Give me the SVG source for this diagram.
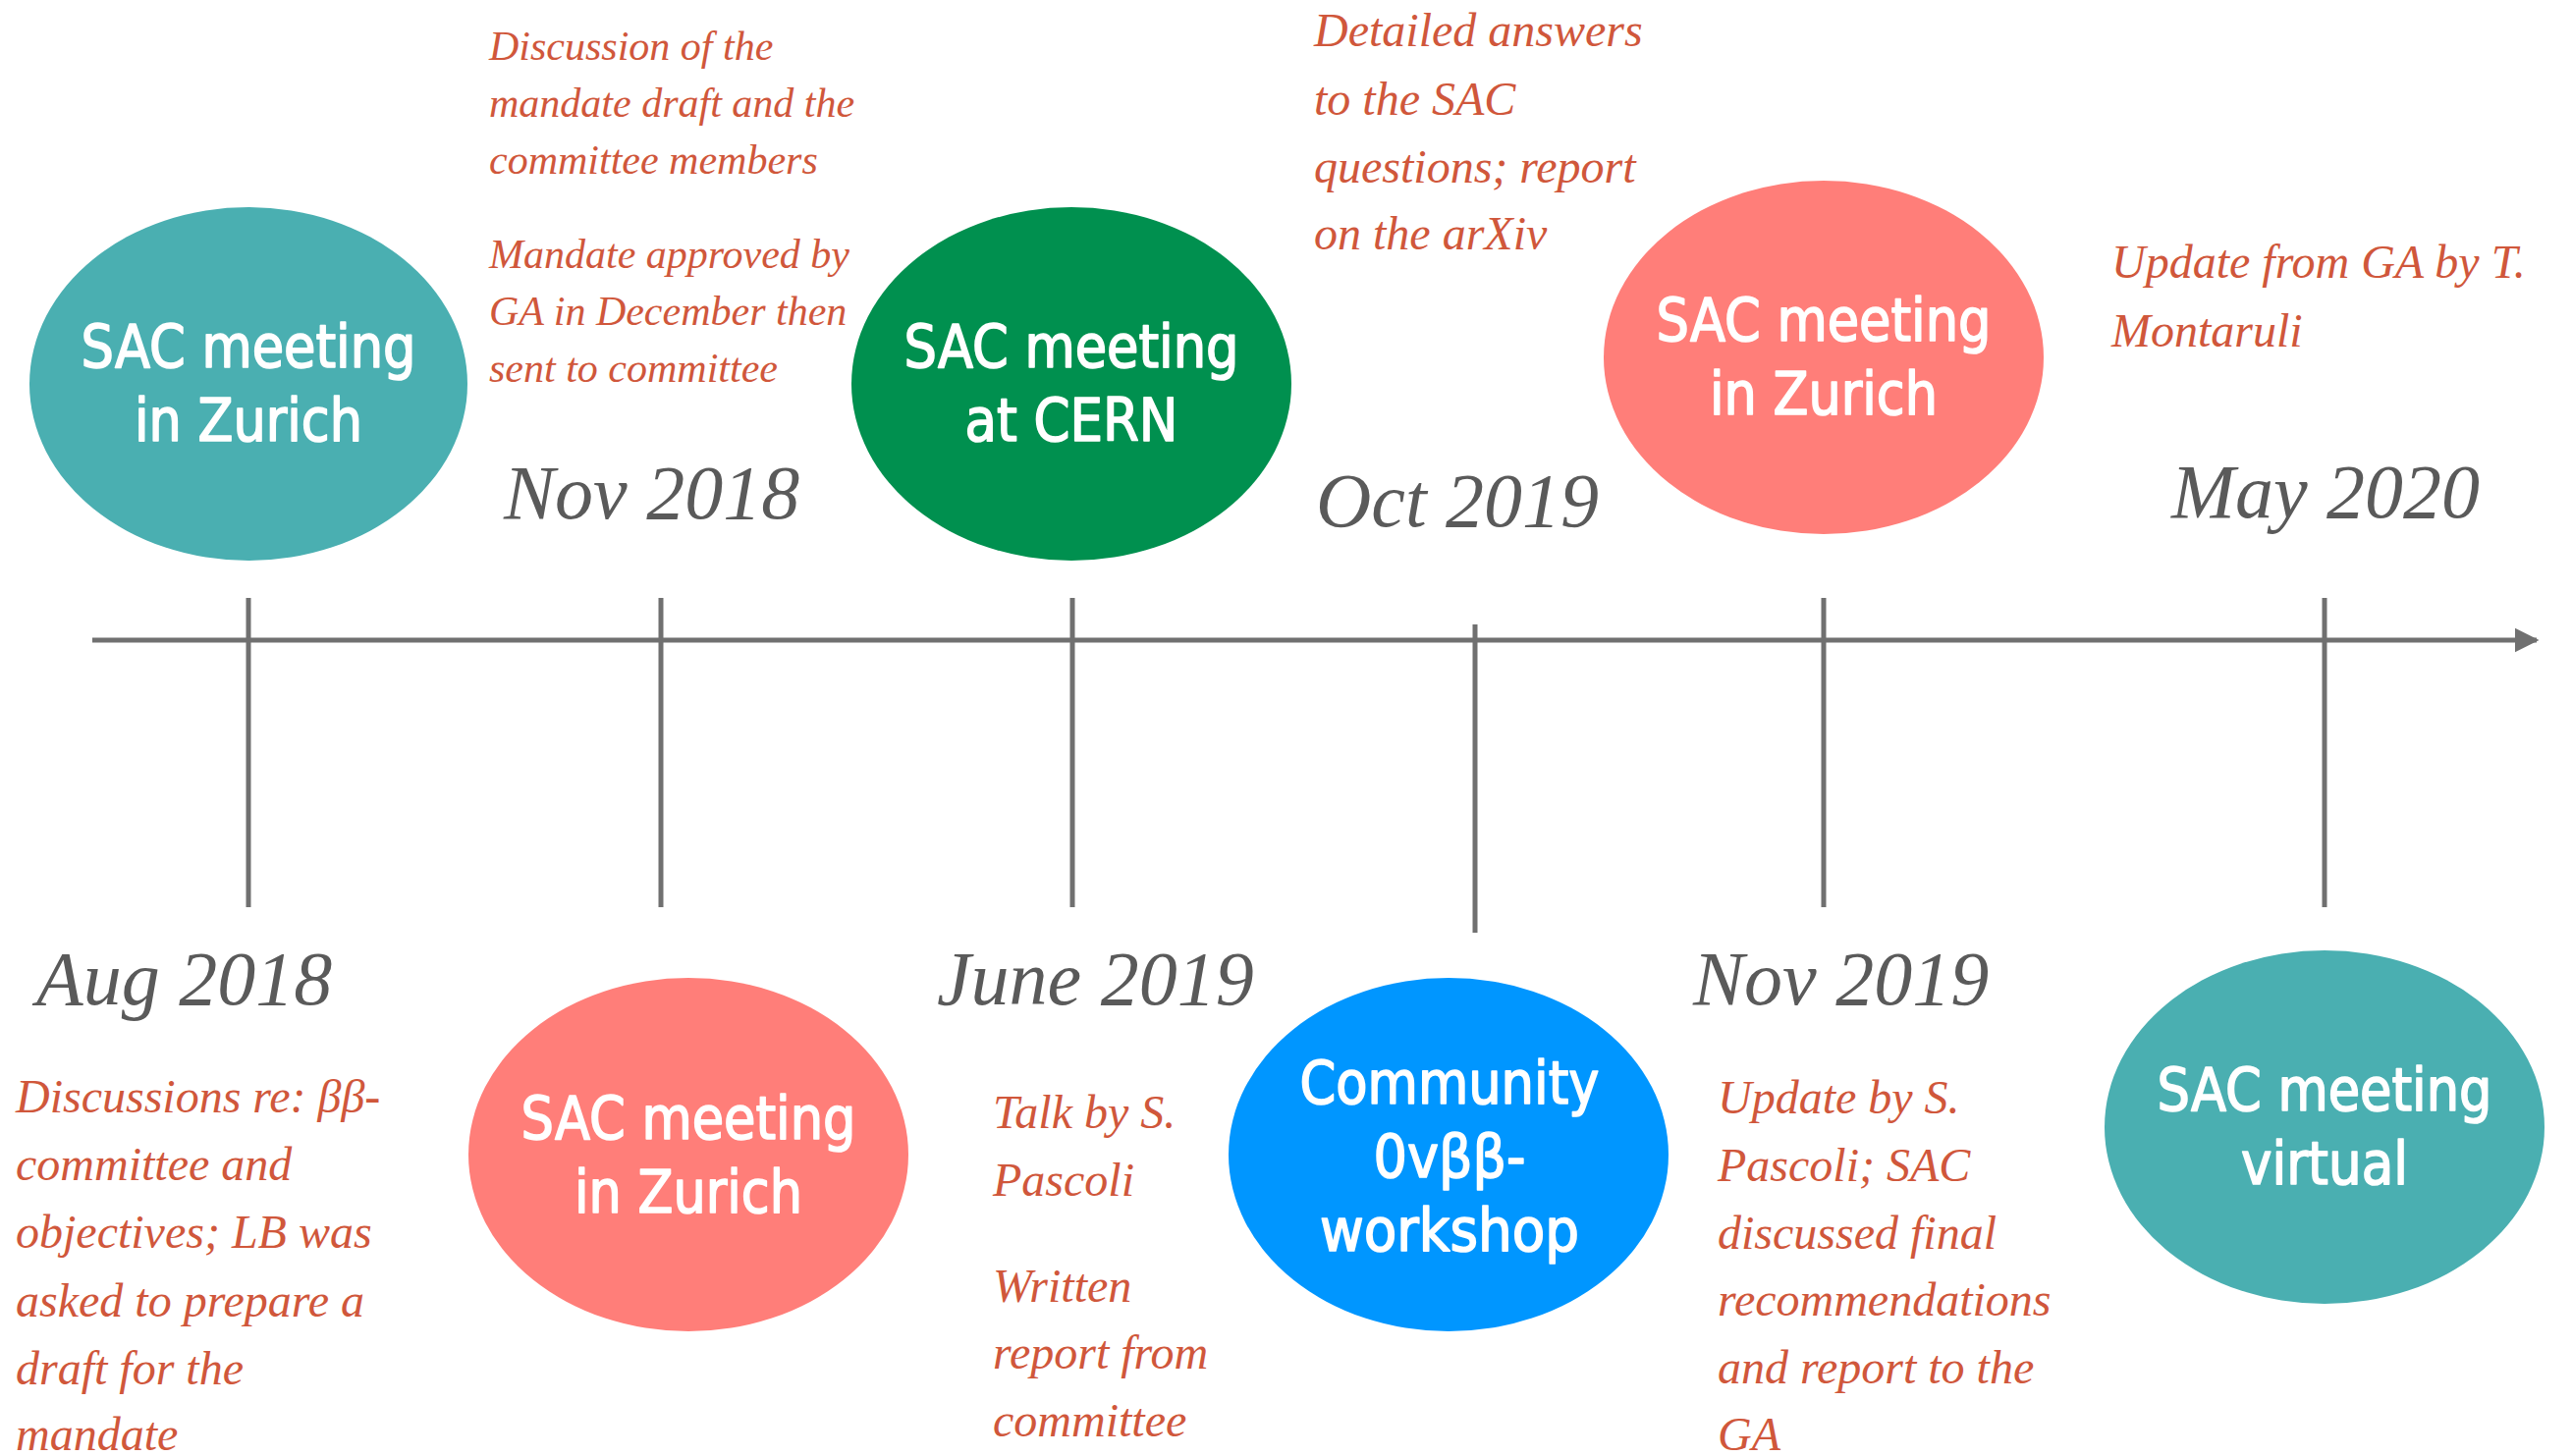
<svg xmlns="http://www.w3.org/2000/svg" width="2619" height="1483" viewBox="0 0 2619 1483">
  <style>
    .node-label { font-family: "DejaVu Sans Condensed", "DejaVu Sans", sans-serif; font-size: 61px; fill: #ffffff; stroke: #ffffff; stroke-width: 1.6px; stroke-linejoin: round; text-anchor: middle; }
    .note { font-family: "Liberation Serif", serif; font-style: italic; fill: #D0573B; }
    .note-s { font-size: 42px; }
    .note-l { font-size: 48px; }
    .date { font-family: "Liberation Serif", serif; font-style: italic; font-size: 78px; fill: #5A5A5A; }
    .axis { stroke: #707070; stroke-width: 5; fill: none; }
  </style>
  <defs>
    <marker id="arrow" viewBox="0 0 10 10" refX="9" refY="5" markerWidth="5" markerHeight="5" markerUnits="strokeWidth" orient="auto">
      <path d="M0,0 L10,5 L0,10 Z" fill="#707070"/>
    </marker>
  </defs>
  <rect width="2619" height="1483" fill="#ffffff"/>

  <!-- timeline axis and ticks -->
  <g id="connectors">
    <line class="axis" x1="94" y1="652" x2="2583" y2="652" marker-end="url(#arrow)"/>
    <line class="axis" x1="253" y1="609" x2="253" y2="924"/>
    <line class="axis" x1="673" y1="609" x2="673" y2="924"/>
    <line class="axis" x1="1092" y1="609" x2="1092" y2="924"/>
    <line class="axis" x1="1502" y1="636" x2="1502" y2="950"/>
    <line class="axis" x1="1857" y1="609" x2="1857" y2="924"/>
    <line class="axis" x1="2367" y1="609" x2="2367" y2="924"/>
  </g>

  <!-- meetings -->
  <g id="node-aug2018">
    <ellipse cx="253" cy="391" rx="223" ry="180" fill="#4AAFB1"/>
    <text class="node-label" x="253" y="374" textLength="341" lengthAdjust="spacingAndGlyphs">SAC meeting</text>
    <text class="node-label" x="253" y="449" textLength="232" lengthAdjust="spacingAndGlyphs">in Zurich</text>
  </g>
  <g id="node-nov2018">
    <ellipse cx="701" cy="1176" rx="224" ry="180" fill="#FF7E79"/>
    <text class="node-label" x="701" y="1160" textLength="341" lengthAdjust="spacingAndGlyphs">SAC meeting</text>
    <text class="node-label" x="701" y="1235" textLength="232" lengthAdjust="spacingAndGlyphs">in Zurich</text>
  </g>
  <g id="node-jun2019">
    <ellipse cx="1091" cy="391" rx="224" ry="180" fill="#00904F"/>
    <text class="node-label" x="1091" y="374" textLength="341" lengthAdjust="spacingAndGlyphs">SAC meeting</text>
    <text class="node-label" x="1091" y="449" textLength="217" lengthAdjust="spacingAndGlyphs">at CERN</text>
  </g>
  <g id="node-oct2019">
    <ellipse cx="1475" cy="1176" rx="224" ry="180" fill="#0096FF"/>
    <text class="node-label" x="1476" y="1124" textLength="305" lengthAdjust="spacingAndGlyphs">Community</text>
    <text class="node-label" x="1476" y="1199" textLength="155" lengthAdjust="spacingAndGlyphs">0vββ-</text>
    <text class="node-label" x="1476" y="1274" textLength="264" lengthAdjust="spacingAndGlyphs">workshop</text>
  </g>
  <g id="node-nov2019">
    <ellipse cx="1857" cy="364" rx="224" ry="180" fill="#FF7E79"/>
    <text class="node-label" x="1857" y="347" textLength="341" lengthAdjust="spacingAndGlyphs">SAC meeting</text>
    <text class="node-label" x="1857" y="422" textLength="232" lengthAdjust="spacingAndGlyphs">in Zurich</text>
  </g>
  <g id="node-may2020">
    <ellipse cx="2367" cy="1148" rx="224" ry="180" fill="#4AAFB1"/>
    <text class="node-label" x="2367" y="1131" textLength="341" lengthAdjust="spacingAndGlyphs">SAC meeting</text>
    <text class="node-label" x="2367" y="1206" textLength="170" lengthAdjust="spacingAndGlyphs">virtual</text>
  </g>

  <!-- dates -->
  <g id="dates">
    <text class="date" x="37" y="1023">Aug 2018</text>
    <text class="date" x="513" y="528">Nov 2018</text>
    <text class="date" x="954" y="1023">June 2019</text>
    <text class="date" x="1340" y="536">Oct 2019</text>
    <text class="date" x="1724" y="1023">Nov 2019</text>
    <text class="date" x="2211" y="527">May 2020</text>
  </g>

  <!-- notes -->
  <g id="notes-nov2018" class="note note-s">
    <text x="498" y="61">Discussion of the</text>
    <text x="498" y="119">mandate draft and the</text>
    <text x="498" y="177">committee members</text>
    <text x="498" y="273">Mandate approved by</text>
    <text x="498" y="331">GA in December then</text>
    <text x="498" y="389">sent to committee</text>
  </g>
  <g id="notes-oct2019" class="note note-l">
    <text x="1338" y="47">Detailed answers</text>
    <text x="1338" y="117">to the SAC</text>
    <text x="1338" y="186">questions; report</text>
    <text x="1338" y="254">on the arXiv</text>
  </g>
  <g id="notes-may2020" class="note note-l">
    <text x="2150" y="283">Update from GA by T.</text>
    <text x="2150" y="353">Montaruli</text>
  </g>
  <g id="notes-aug2018" class="note note-l">
    <text x="16" y="1133">Discussions re: ββ-</text>
    <text x="16" y="1202">committee and</text>
    <text x="16" y="1271">objectives; LB was</text>
    <text x="16" y="1341">asked to prepare a</text>
    <text x="16" y="1410">draft for the</text>
    <text x="16" y="1477">mandate</text>
  </g>
  <g id="notes-jun2019" class="note note-l">
    <text x="1011" y="1149">Talk by S.</text>
    <text x="1011" y="1218">Pascoli</text>
    <text x="1011" y="1326">Written</text>
    <text x="1011" y="1394">report from</text>
    <text x="1011" y="1463">committee</text>
  </g>
  <g id="notes-nov2019" class="note note-l">
    <text x="1749" y="1134">Update by S.</text>
    <text x="1749" y="1203">Pascoli; SAC</text>
    <text x="1749" y="1272">discussed final</text>
    <text x="1749" y="1340">recommendations</text>
    <text x="1749" y="1409">and report to the</text>
    <text x="1749" y="1477">GA</text>
  </g>
</svg>
